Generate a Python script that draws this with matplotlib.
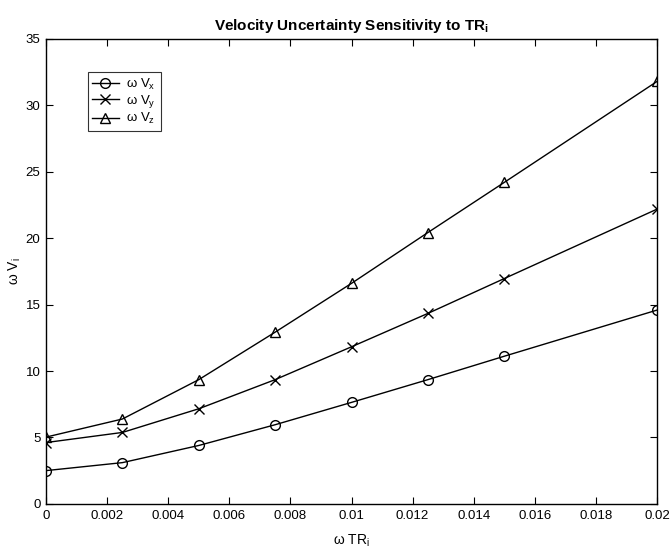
import matplotlib
matplotlib.use("Agg")
import matplotlib.pyplot as plt
from matplotlib.ticker import FuncFormatter

plt.rcParams['font.family'] = ['Liberation Sans', 'DejaVu Sans']

tr = [0, 0.0025, 0.005, 0.0075, 0.01, 0.0125, 0.015, 0.02]
vx = [2.51, 3.11, 4.40, 5.96, 7.64, 9.35, 11.11, 14.58]
vy = [4.62, 5.38, 7.16, 9.35, 11.82, 14.33, 16.95, 22.17]
vz = [5.03, 6.39, 9.35, 12.92, 16.59, 20.41, 24.18, 31.77]

xticks = [0, 0.002, 0.004, 0.006, 0.008, 0.01, 0.012, 0.014, 0.016, 0.018, 0.02]
yticks = [0, 5, 10, 15, 20, 25, 30, 35]

fig = plt.figure(figsize=(6.71, 5.55), dpi=100)
ax = fig.add_axes([0.0686, 0.0919, 0.9105, 0.8387])

kw = dict(color='black', lw=1.0, markerfacecolor='none', markeredgecolor='black', markeredgewidth=1.0)
ax.plot(tr, vx, marker='o', ms=7, label=r'ω V$_\mathregular{x}$', **kw)
ax.plot(tr, vy, marker='x', ms=7, label=r'ω V$_\mathregular{y}$', **kw)
ax.plot(tr, vz, marker='^', ms=7.5, label=r'ω V$_\mathregular{z}$', **kw)

ax.set_xlim(0, 0.02)
ax.set_ylim(0, 35)
ax.set_xticks(xticks)
ax.set_yticks(yticks)
ax.xaxis.set_major_formatter(FuncFormatter(lambda v, p: '%g' % round(v, 6)))
ax.tick_params(direction='in', top=True, right=True, length=5, width=0.8, labelsize=9.5, pad=4)
for s in ax.spines.values():
    s.set_linewidth(1.0)

ax.set_title(r'Velocity Uncertainty Sensitivity to TR$_\mathregular{i}$', fontsize=11, fontweight='bold', pad=6)
ax.set_xlabel(r'ω TR$_\mathregular{i}$', fontsize=10, labelpad=8)
ax.set_ylabel(r'ω V$_\mathregular{i}$', fontsize=10, labelpad=2)

leg = ax.legend(loc='upper left', bbox_to_anchor=(0.068, 0.928), frameon=True, fancybox=False,
                edgecolor='black', fontsize=9.5, handlelength=2.0, handletextpad=0.6,
                borderpad=0.35, labelspacing=0.1, borderaxespad=0)
leg.get_frame().set_linewidth(0.8)

fig.savefig('out.png', dpi=100)
